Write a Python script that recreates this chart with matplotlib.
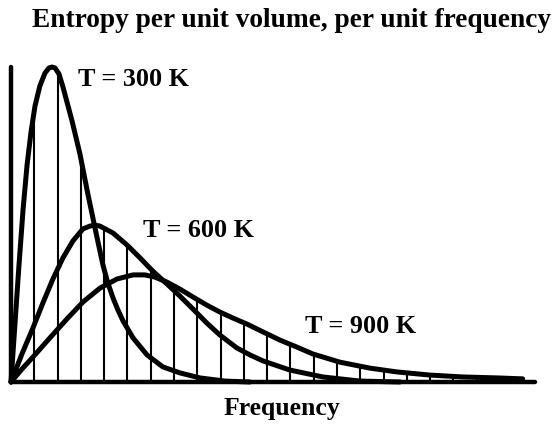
import matplotlib
matplotlib.use("Agg")
import matplotlib.pyplot as plt
import numpy as np

# Frequency (one unit = one hatch spacing) and entropy density (arbitrary units)
f300 = [0, 0.17, 0.34, 0.52, 0.69, 0.86, 1.03, 1.24, 1.46, 1.63, 1.76, 1.89, 2.06, 2.23, 2.62,
        2.96, 3.30, 3.69, 3.95, 4.16, 4.38, 4.59, 4.81, 5.24, 5.84, 6.52, 7.25, 8.11, 9.18, 10.26]
s300 = [0, 0.184, 0.368, 0.549, 0.689, 0.794, 0.876, 0.940, 0.981, 0.997, 1.0, 0.997, 0.978, 0.937, 0.829,
        0.724, 0.597, 0.460, 0.371, 0.314, 0.267, 0.229, 0.194, 0.140, 0.086, 0.048, 0.029, 0.013, 0.003, 0]

f600 = [0, 0.47, 0.94, 1.37, 1.80, 2.23, 2.66, 3.09, 3.39, 3.61, 3.82, 4.38, 4.98, 5.54, 6.09,
        6.70, 7.25, 7.81, 8.41, 8.97, 9.70, 10.26, 10.82, 11.97, 13.39, 14.98, 16.70]
s600 = [0, 0.089, 0.171, 0.251, 0.327, 0.394, 0.448, 0.486, 0.495, 0.498, 0.495, 0.473, 0.435, 0.394, 0.352,
        0.311, 0.273, 0.232, 0.187, 0.149, 0.108, 0.086, 0.067, 0.038, 0.016, 0.003, 0]

f900 = [0, 0.47, 0.94, 1.67, 2.40, 3.09, 3.82, 4.55, 5.24, 5.75, 6.18, 6.70, 7.25, 7.81, 8.41,
        8.97, 9.53, 10.13, 10.82, 11.55, 12.27, 12.96, 14.12, 15.41, 16.57, 17.98, 19.40, 20.86, 21.97]
s900 = [0, 0.041, 0.079, 0.140, 0.200, 0.254, 0.298, 0.327, 0.340, 0.340, 0.333, 0.317, 0.295, 0.270, 0.244,
        0.222, 0.203, 0.184, 0.159, 0.133, 0.111, 0.089, 0.063, 0.044, 0.032, 0.022, 0.016, 0.013, 0.010]

labels = ["T = 300 K", "T = 600 K", "T = 900 K"]
hatch_freqs = list(range(1, 21))

plt.rcParams['font.family'] = ['Liberation Serif', 'DejaVu Serif']

fig = plt.figure(figsize=(5.59, 4.27), dpi=100)
ax = fig.add_axes([11 / 559, 44 / 427, 524 / 559, 315 / 427])
ax.set_xlim(0, 22.5)
ax.set_ylim(0, 1.0)

# vertical hatch lines up to the highest curve
curves = [(f300, s300), (f600, s600), (f900, s900)]
tops = [max(np.interp(k, f, s) for f, s in curves) for k in hatch_freqs]
ax.vlines(hatch_freqs, 0, tops, color='black', lw=1.5)

for f, s in curves:
    ax.plot(f, s, color='black', lw=3.6, solid_joinstyle='round', solid_capstyle='round', clip_on=False)

# axis lines
for side in ['top', 'right']:
    ax.spines[side].set_visible(False)
for side in ['left', 'bottom']:
    ax.spines[side].set_linewidth(3.2)
    ax.spines[side].set_capstyle('round')
ax.set_xticks([])
ax.set_yticks([])

# curve labels
ax.text(2.88, 0.943, labels[0], fontsize=18.8, fontweight='bold', va='baseline')
ax.text(5.67, 0.462, labels[1], fontsize=18.8, fontweight='bold', va='baseline')
ax.text(12.62, 0.159, labels[2], fontsize=18.8, fontweight='bold', va='baseline')

fig.text(291 / 559, 1 - 27 / 427, "Entropy per unit volume, per unit frequency",
         fontsize=19.7, fontweight='bold', ha='center', va='baseline')
fig.text(282 / 559, 1 - 415 / 427, "Frequency", fontsize=18.5, fontweight='bold', ha='center', va='baseline')

fig.savefig("out.png", dpi=100)
